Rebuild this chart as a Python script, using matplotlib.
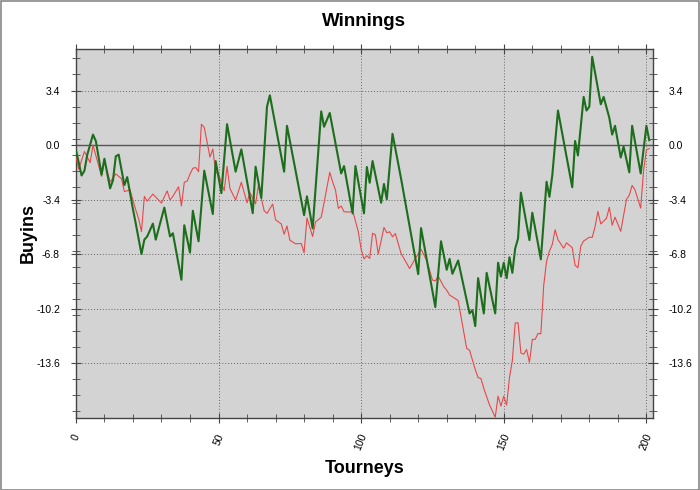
import numpy as np
import matplotlib
matplotlib.use("Agg")
from matplotlib import pyplot as plt
from matplotlib.patches import Rectangle

plt.rcParams["font.family"] = ["Liberation Sans", "DejaVu Sans"]

# green series (thick line), vertices
green_tourney = [0, 2, 3, 4, 6, 7, 9, 10, 12, 13, 14, 15, 17, 18, 20, 21, 23, 24, 25, 27,
                 28, 31, 33, 34, 37, 38, 40, 41, 43, 45, 48, 49, 51, 53, 56, 58, 62, 63, 65, 67,
                 68, 73, 74, 80, 81, 83, 86, 87, 89, 93, 94, 97, 98, 101, 102, 103, 104, 107, 108, 109,
                 111, 114, 120, 121, 126, 128, 130, 131, 132, 134, 138, 139, 140, 141, 143, 144, 147, 148, 149, 150,
                 151, 152, 153, 154, 155, 156, 159, 160, 163, 165, 166, 167, 169, 174, 175, 176, 178, 179, 180, 181,
                 184, 185, 187, 188, 189, 191, 192, 194, 195, 198, 200, 201]
green_buyins = [-0.3, -1.9, -1.6, -0.6, 0.65, 0.25, -1.85, -0.85, -2.7, -2.2, -0.7, -0.6, -2.5, -2.0, -4.0, -4.9, -6.8, -5.9, -5.7, -4.9,
                -5.9, -3.9, -5.7, -5.5, -8.4, -5.0, -6.7, -4.1, -6.0, -1.6, -4.3, -1.0, -3.0, 1.3, -1.66, -0.27, -4.25, -1.35, -3.3, 2.4,
                3.1, -1.66, 1.2, -4.37, -3.2, -5.2, 2.1, 1.14, 2.0, -1.77, -1.31, -4.26, -1.31, -4.26, -1.37, -2.35, -1.0, -3.6, -2.43, -3.38,
                0.7, -2.1, -8.05, -5.18, -10.1, -6.0, -7.78, -7.1, -8.03, -7.2, -10.5, -10.3, -11.29, -8.3, -10.5, -7.97, -10.5, -7.34, -8.2, -7.34,
                -8.3, -7.0, -7.97, -6.45, -5.83, -2.97, -5.93, -4.22, -7.13, -2.29, -3.23, -1.9, 2.15, -2.63, 0.25, -0.65, 3.0, 2.15, 2.4, 5.5,
                2.54, 3.0, 1.7, 0.65, 1.2, -0.78, -0.1, -1.7, 1.2, -1.77, 1.2, 0.3]

# red series (thin line)
red_tourney = [0, 1, 3, 5, 6, 9, 10, 12, 14, 16, 17, 19, 21, 22, 23, 24, 25, 27, 28, 30,
               32, 33, 34, 36, 37, 38, 39, 40, 41, 42, 43, 44, 45, 47, 48, 49, 50, 52, 53, 54,
               56, 58, 60, 61, 63, 64, 66, 67, 69, 70, 72, 73, 74, 75, 77, 79, 80, 81, 83, 84,
               86, 87, 89, 90, 91, 92, 93, 94, 96, 97, 99, 100, 101, 102, 103, 104, 105, 106, 108, 109,
               110, 111, 112, 114, 115, 117, 119, 121, 123, 125, 126, 127, 129, 130, 131, 132, 134, 135, 137, 138,
               140, 141, 142, 143, 144, 145, 147, 148, 149, 150, 151, 152, 153, 154, 155, 156, 157, 158, 159, 160,
               161, 162, 163, 164, 165, 166, 167, 168, 169, 171, 172, 174, 175, 176, 177, 178, 180, 181, 182, 183,
               184, 186, 187, 188, 189, 191, 193, 194, 195, 196, 198, 199, 200, 201]
red_buyins = [-0.7, -1.5, -0.4, -1.1, 0.0, -1.95, -1.0, -2.3, -1.8, -2.1, -2.9, -2.8, -4.05, -4.6, -5.4, -3.2, -3.5, -3.06, -3.25, -3.62,
              -2.86, -3.42, -3.2, -2.6, -3.8, -2.32, -2.25, -1.81, -1.45, -1.4, -1.66, 1.3, 1.1, -0.75, -0.25, -1.7, -1.81, -2.85, -1.33, -2.7,
              -3.43, -2.32, -3.6, -2.97, -3.66, -2.53, -4.1, -4.26, -3.68, -4.66, -4.92, -5.56, -5.05, -5.93, -6.16, -6.14, -6.72, -4.55, -5.7, -4.8,
              -4.5, -3.6, -1.7, -2.3, -2.8, -3.95, -3.8, -4.16, -4.18, -4.08, -5.4, -6.5, -7.1, -6.9, -7.07, -5.5, -5.6, -6.8, -5.14, -5.47,
              -5.41, -5.72, -5.52, -6.76, -7.07, -7.7, -7.07, -6.5, -7.2, -8.42, -8.47, -8.17, -8.84, -9.05, -9.36, -9.46, -9.7, -10.7, -12.68, -12.79,
              -14.0, -14.5, -14.56, -15.18, -15.7, -16.2, -16.97, -15.66, -16.28, -15.66, -16.22, -14.5, -13.45, -11.1, -11.08, -12.97, -13.04, -12.75, -13.55, -12.12,
              -12.12, -11.75, -11.77, -8.75, -7.25, -6.62, -6.2, -5.28, -5.9, -6.43, -6.1, -6.4, -7.5, -7.65, -6.3, -5.98, -5.75, -5.76, -5.1, -4.14,
              -4.92, -4.57, -3.88, -5.0, -4.5, -5.38, -3.4, -3.12, -2.52, -2.8, -3.93, -1.6, -0.3, -0.22]

y_major = [-13.6, -10.2, -6.8, -3.4, 0.0, 3.4]
x_major = [0, 50, 100, 150, 200]

fig = plt.figure(figsize=(7, 4.9), dpi=100)
ax = fig.add_axes([0.1084, 0.1476, 0.824, 0.7518])
ax.set_facecolor("#d3d3d3")

ax.plot(red_tourney, red_buyins, color="#e8484a", lw=0.8, zorder=3)
ax.plot(green_tourney, green_buyins, color="#1c6e1c", lw=1.5, zorder=4)

ax.set_xlim(0, 202.2)
ax.set_ylim(-17.0, 5.97)

# grid: dotted lines at major ticks, solid zero line
for y in y_major:
    if y == 0:
        ax.axhline(0, color="#555555", lw=1.0, zorder=2)
    else:
        ax.axhline(y, color="#666666", lw=0.7, ls=(0, (1, 2)), zorder=1)
for x in x_major[1:]:
    ax.axvline(x, color="#666666", lw=0.7, ls=(0, (1, 2)), zorder=1)

ax.set_xticks(x_major)
ax.set_xticks(np.arange(0, 201, 10), minor=True)
ax.set_xticklabels([str(x) for x in x_major], rotation=68, fontsize=7.5)
ax.set_yticks(y_major)
ax.set_yticks(np.arange(-16.6, 5.5, 1.0), minor=True)
ax.set_yticklabels([f"{y:.1f}" for y in y_major], fontsize=7.5)

ax.tick_params(which="both", direction="inout", color="#444444",
               top=True, right=True, labelright=True)
ax.tick_params(which="major", length=7)
ax.tick_params(which="minor", length=6)
ax.tick_params(axis="y", pad=8)
ax.tick_params(axis="x", pad=7)
for lbl in ax.get_xticklabels():
    lbl.set_ha("center")

for s in ax.spines.values():
    s.set_color("#444444")
    s.set_linewidth(1.0)

ax.set_title("Winnings", fontsize=13.5, fontweight="bold", pad=17)
ax.set_xlabel("Tourneys", fontsize=13, fontweight="bold", labelpad=6)
ax.set_ylabel("Buyins", fontsize=13, fontweight="bold")
ax.yaxis.set_label_coords(-0.068, 0.5)

fig.add_artist(Rectangle((0.001, 0.001), 0.997, 0.997, transform=fig.transFigure,
                         fill=False, edgecolor="#888888", lw=1.2))

fig.savefig("out.png", dpi=100)
